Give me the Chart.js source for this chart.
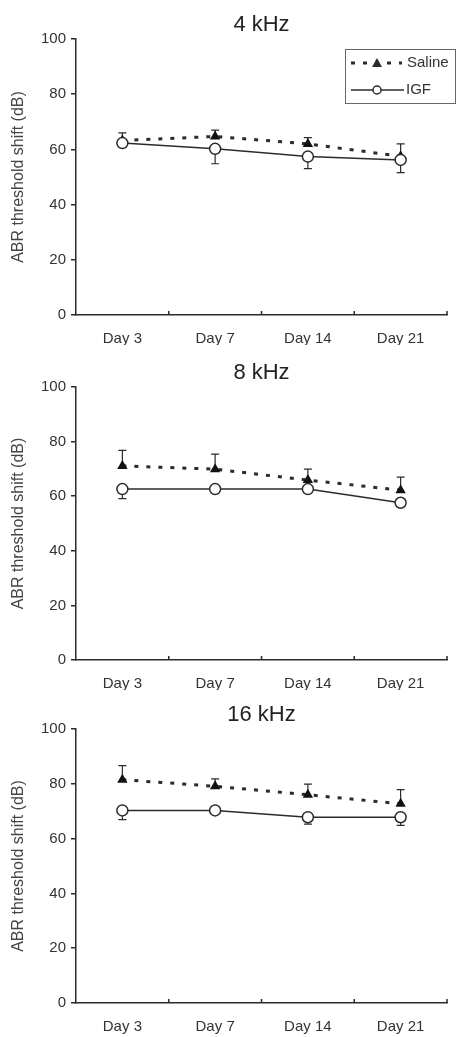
<!DOCTYPE html>
<html>
<head>
<meta charset="utf-8">
<script src="https://cdn.jsdelivr.net/npm/chart.js@4"></script>
<style>
body { margin: 0; background: #fff; }
canvas { display: block; }
</style>
</head>
<body>
<canvas id="chart4" width="456" height="345"></canvas>
<canvas id="chart8" width="456" height="345"></canvas>
<canvas id="chart16" width="456" height="347"></canvas>
<script>
const days = ['Day 3', 'Day 7', 'Day 14', 'Day 21'];
const yTicks = [0, 20, 40, 60, 80, 100];

// 4 kHz
const saline4 = [63.2, 64.7, 62, 57.5];
const salineErr4 = [2.8, 2.3, 2.3, 4.5];
const igf4 = [62.3, 60.2, 57.4, 56.2];
const igfErr4 = [1.5, 5.4, 4.4, 4.6];

// 8 kHz
const saline8 = [71.1, 69.9, 65.9, 62.2];
const salineErr8 = [5.7, 5.5, 4, 4.8];
const igf8 = [62.6, 62.6, 62.6, 57.6];
const igfErr8 = [3.5, 0, 0, 0];

// 16 kHz
const saline16 = [81.5, 79.1, 76, 72.7];
const salineErr16 = [5.1, 2.7, 3.9, 5.2];
const igf16 = [70.3, 70.3, 67.8, 67.8];
const igfErr16 = [3.4, 0, 2.5, 3];

const ink = '#2b2b2b';
const font = 'Liberation Sans, Arial, sans-serif';

function makeChart(id, title, saline, salineErr, igf, igfErr, showLegend, padTop, xHeight) {
    const extras = {
        id: 'extras',
        beforeDatasetsDraw(chart) {
            const ctx = chart.ctx;
            const x = chart.scales.x;
            const y = chart.scales.y;
            ctx.save();
            ctx.strokeStyle = ink;
            ctx.lineWidth = 1.2;
            // saline bars go up, IGF bars go down
            const bars = [[saline, salineErr, 1], [igf, igfErr, -1]];
            bars.forEach(([vals, errs, dir]) => {
                vals.forEach((v, i) => {
                    if (!errs[i]) return;
                    const px = x.getPixelForValue(i);
                    const y0 = y.getPixelForValue(v);
                    const y1 = y.getPixelForValue(v + dir * errs[i]);
                    ctx.beginPath();
                    ctx.moveTo(px, y0);
                    ctx.lineTo(px, y1);
                    ctx.moveTo(px - 4, y1);
                    ctx.lineTo(px + 4, y1);
                    ctx.stroke();
                });
            });
            ctx.restore();
        },
        afterDraw(chart) {
            const ctx = chart.ctx;
            const x = chart.scales.x;
            const area = chart.chartArea;
            ctx.save();
            ctx.strokeStyle = ink;
            ctx.lineWidth = 1.5;
            // small inward ticks between categories
            const step = (x.right - x.left) / days.length;
            for (let i = 1; i <= days.length; i++) {
                const px = x.left + step * i;
                ctx.beginPath();
                ctx.moveTo(px, area.bottom);
                ctx.lineTo(px, area.bottom - 4);
                ctx.stroke();
            }
            if (showLegend) {
                ctx.strokeStyle = '#666';
                ctx.lineWidth = 1;
                ctx.strokeRect(345.5, 49.5, 110, 54);
                ctx.strokeStyle = ink;
                ctx.fillStyle = ink;
                ctx.lineWidth = 3;
                ctx.setLineDash([4, 8]);
                ctx.beginPath();
                ctx.moveTo(351, 63);
                ctx.lineTo(402, 63);
                ctx.stroke();
                ctx.setLineDash([]);
                ctx.beginPath();
                ctx.moveTo(377, 58);
                ctx.lineTo(382, 67);
                ctx.lineTo(372, 67);
                ctx.closePath();
                ctx.fill();
                ctx.lineWidth = 1.5;
                ctx.beginPath();
                ctx.moveTo(351, 90);
                ctx.lineTo(404, 90);
                ctx.stroke();
                ctx.beginPath();
                ctx.arc(377, 90, 4, 0, Math.PI * 2);
                ctx.fillStyle = '#fff';
                ctx.fill();
                ctx.stroke();
                ctx.fillStyle = '#333';
                ctx.font = '15px ' + font;
                ctx.textBaseline = 'middle';
                ctx.fillText('Saline', 407, 63);
                ctx.fillText('IGF', 406, 90);
            }
            ctx.restore();
        }
    };

    return new Chart(document.getElementById(id), {
        type: 'line',
        data: {
            labels: days,
            datasets: [{
                label: 'IGF',
                data: igf,
                borderColor: ink,
                borderWidth: 1.5,
                pointStyle: 'circle',
                pointRadius: 5.5,
                pointBorderWidth: 1.5,
                pointBackgroundColor: '#fff',
                pointBorderColor: ink
            }, {
                label: 'Saline',
                data: saline,
                borderColor: ink,
                borderWidth: 3,
                borderDash: [4, 8],
                pointStyle: 'triangle',
                pointRadius: 6,
                pointBorderWidth: 0,
                pointBackgroundColor: '#111',
                pointBorderColor: '#111'
            }]
        },
        options: {
            responsive: false,
            animation: false,
            layout: { padding: { right: 9, bottom: 0, top: padTop } },
            plugins: {
                legend: { display: false },
                tooltip: { enabled: false },
                title: {
                    display: true,
                    text: title,
                    fullSize: false,
                    color: '#222',
                    font: { family: font, size: 22, weight: 'normal', lineHeight: 1 },
                    padding: { top: 14, bottom: 3 }
                }
            },
            scales: {
                x: {
                    offset: true,
                    grid: { display: false, drawTicks: false },
                    border: { display: true, color: ink, width: 1.5 },
                    ticks: { color: '#333', font: { family: font, size: 15 }, padding: 15 },
                    afterFit(scale) { scale.height = xHeight; }
                },
                y: {
                    min: 0,
                    max: 100,
                    afterBuildTicks(scale) { scale.ticks = yTicks.map(v => ({ value: v })); },
                    grid: { drawOnChartArea: false, drawTicks: true, tickLength: 5, color: ink, lineWidth: 1.5 },
                    border: { display: true, color: ink, width: 1.5 },
                    ticks: { color: '#333', font: { family: font, size: 15 }, padding: 5 },
                    title: {
                        display: true,
                        text: 'ABR threshold shift (dB)',
                        color: '#444',
                        font: { family: font, size: 16 },
                        padding: { top: 9, bottom: 0 }
                    },
                    afterFit(scale) { scale.width = 76; }
                }
            }
        },
        plugins: [extras]
    });
}

makeChart('chart4', '4 kHz', saline4, salineErr4, igf4, igfErr4, true, 0, 30);
makeChart('chart8', '8 kHz', saline8, salineErr8, igf8, igfErr8, false, 3, 30);
makeChart('chart16', '16 kHz', saline16, salineErr16, igf16, igfErr16, false, 0, 34);
</script>
</body>
</html>
